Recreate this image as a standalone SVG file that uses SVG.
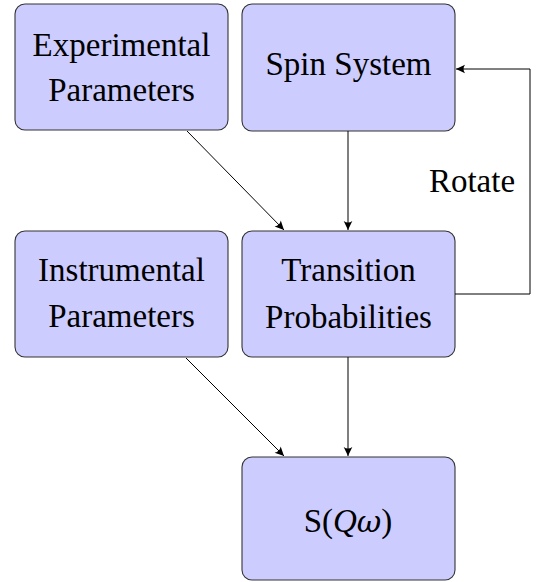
<svg xmlns="http://www.w3.org/2000/svg" width="536" height="582" viewBox="0 0 536 582">
  <defs>
    <marker id="arr" markerUnits="userSpaceOnUse" markerWidth="12" markerHeight="12" viewBox="-8 -5 9 10" refX="0" refY="0" orient="auto">
      <path d="M0,0 L-7.5,-3.6 Q-5,0 -7.5,3.6 Z" fill="#000"/>
    </marker>
  </defs>

  <g id="experimental">
    <rect fill="#ccccff" stroke="#333333" stroke-width="1.1" x="15" y="4" width="213" height="126" rx="10"/>
    <text font-family="Liberation Serif" font-size="33" text-anchor="middle" x="121.5" y="56">Experimental</text>
    <text font-family="Liberation Serif" font-size="33" text-anchor="middle" x="121.5" y="101">Parameters</text>
  </g>
  <g id="spin">
    <rect fill="#ccccff" stroke="#333333" stroke-width="1.1" x="242" y="4" width="213" height="127" rx="10"/>
    <text font-family="Liberation Serif" font-size="33" text-anchor="middle" x="348.5" y="75">Spin System</text>
  </g>
  <g id="instrumental">
    <rect fill="#ccccff" stroke="#333333" stroke-width="1.1" x="15" y="231" width="213" height="126" rx="10"/>
    <text font-family="Liberation Serif" font-size="33" text-anchor="middle" x="121.5" y="281">Instrumental</text>
    <text font-family="Liberation Serif" font-size="33" text-anchor="middle" x="121.5" y="327">Parameters</text>
  </g>
  <g id="transition">
    <rect fill="#ccccff" stroke="#333333" stroke-width="1.1" x="242" y="231" width="213" height="126" rx="10"/>
    <text font-family="Liberation Serif" font-size="33" text-anchor="middle" x="348.5" y="281">Transition</text>
    <text font-family="Liberation Serif" font-size="33" text-anchor="middle" x="348.5" y="328">Probabilities</text>
  </g>
  <g id="sqw">
    <rect fill="#ccccff" stroke="#333333" stroke-width="1.1" x="242" y="457" width="213" height="123" rx="10"/>
    <text font-family="Liberation Serif" font-size="33" text-anchor="middle" x="348" y="532">S(<tspan font-style="italic">Q</tspan><tspan font-style="italic" font-family="DejaVu Serif" font-size="30">ω</tspan>)</text>
  </g>

  <g id="connectors" fill="none" stroke="#000" stroke-width="1">
    <line x1="348" y1="131" x2="348" y2="230" marker-end="url(#arr)"/>
    <line x1="187" y1="131" x2="284" y2="230" marker-end="url(#arr)"/>
    <line x1="348" y1="357" x2="348" y2="456" marker-end="url(#arr)"/>
    <line x1="186" y1="358" x2="284" y2="456" marker-end="url(#arr)"/>
    <polyline points="455,294 530,294 530,69 456,69" marker-end="url(#arr)"/>
  </g>
  <text font-family="Liberation Serif" font-size="33" text-anchor="middle" x="472" y="192">Rotate</text>
</svg>
